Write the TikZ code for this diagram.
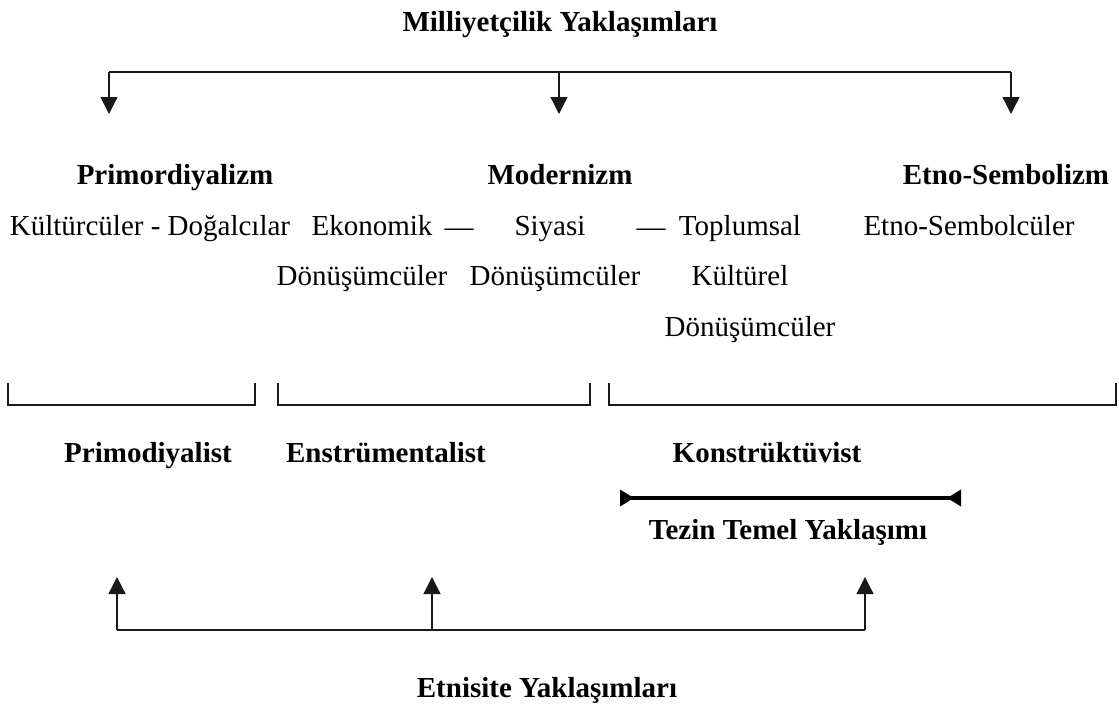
\documentclass[tikz,border=0pt]{standalone}
\usepackage{fontspec}
\setmainfont{Liberation Serif}
\usetikzlibrary{arrows.meta}
\tikzset{
  txt/.style={inner sep=0pt, anchor=center, yshift=-3pt, text height=19pt, text depth=6pt, font=\fontsize{29}{34}\selectfont},
  hd/.style={txt, font=\fontsize{29}{34}\selectfont\bfseries},
  ln/.style={line width=1.3pt, black!90},
  arr/.style={ln, -{Triangle[length=17pt,width=17pt]}},
  thick bar/.style={line width=3.5pt, {Triangle[reversed,length=14pt,width=16pt]}-{Triangle[reversed,length=14pt,width=16pt]}}
}
\begin{document}
\begin{tikzpicture}[x=1pt,y=-1pt]
\useasboundingbox (0,0) rectangle (1119,704);

% nationalism approaches
\node[hd] (top) at (560,22) {Milliyetçilik Yaklaşımları};
\coordinate (tl) at (109,72);
\coordinate (tr) at (1011,72);
\node[hd] (prim) at (175,175) {Primordiyalizm};
\node[hd] (mod) at (560,175) {Modernizm};
\node[hd] (etno) at (1006,175) {Etno-Sembolizm};
\coordinate (a1) at (109,114);
\coordinate (a2) at (559,114);
\coordinate (a3) at (1011,114);
\draw[ln] (tl) -- (tr);
\draw[arr] (tl) -- (a1);
\draw[arr] (a2 |- tl) -- (a2);
\draw[arr] (tr) -- (a3);

% sub-schools
\node[txt] (kd) at (150,226) {Kültürcüler - Doğalcılar};
\node[txt] (eko) at (372,226) {Ekonomik};
\node[txt] (d1) at (459,227) {—};
\node[txt] (siy) at (550,226) {Siyasi};
\node[txt] (d2) at (651,227) {—};
\node[txt] (top2) at (740,226) {Toplumsal};
\node[txt] (es) at (969,226) {Etno-Sembolcüler};
\node[txt] (don1) at (362,276) {Dönüşümcüler};
\node[txt] (don2) at (555,276) {Dönüşümcüler};
\node[txt] (kul) at (740,276) {Kültürel};
\node[txt] (don3) at (750,327) {Dönüşümcüler};

% grouping brackets
\draw[ln] (8,383) -- (8,405) -- (255,405) -- (255,383);
\draw[ln] (278,383) -- (278,405) -- (590,405) -- (590,383);
\draw[ln] (609,383) -- (609,405) -- (1116,405) -- (1116,383);

% ethnicity approaches
\node[hd] (pd) at (148,453) {Primodiyalist};
\node[hd] (ens) at (386,453) {Enstrümentalist};
\node[hd] (kon) at (767,453) {Konstrüktüvist};
\coordinate (bl) at (620,498);
\coordinate (br) at (961,498);
\draw[thick bar] (bl) -- (br);
\node[hd] (tez) at (788,530) {Tezin Temel Yaklaşımı};

\coordinate (ll) at (117,630);
\coordinate (lr) at (865,630);
\coordinate (u1) at (117,577);
\coordinate (u2) at (432,577);
\coordinate (u3) at (865,577);
\draw[ln] (ll) -- (lr);
\draw[arr] (ll) -- (u1);
\draw[arr] (u2 |- ll) -- (u2);
\draw[arr] (lr) -- (u3);
\node[hd] (etn) at (547,688) {Etnisite Yaklaşımları};
\end{tikzpicture}
\end{document}
